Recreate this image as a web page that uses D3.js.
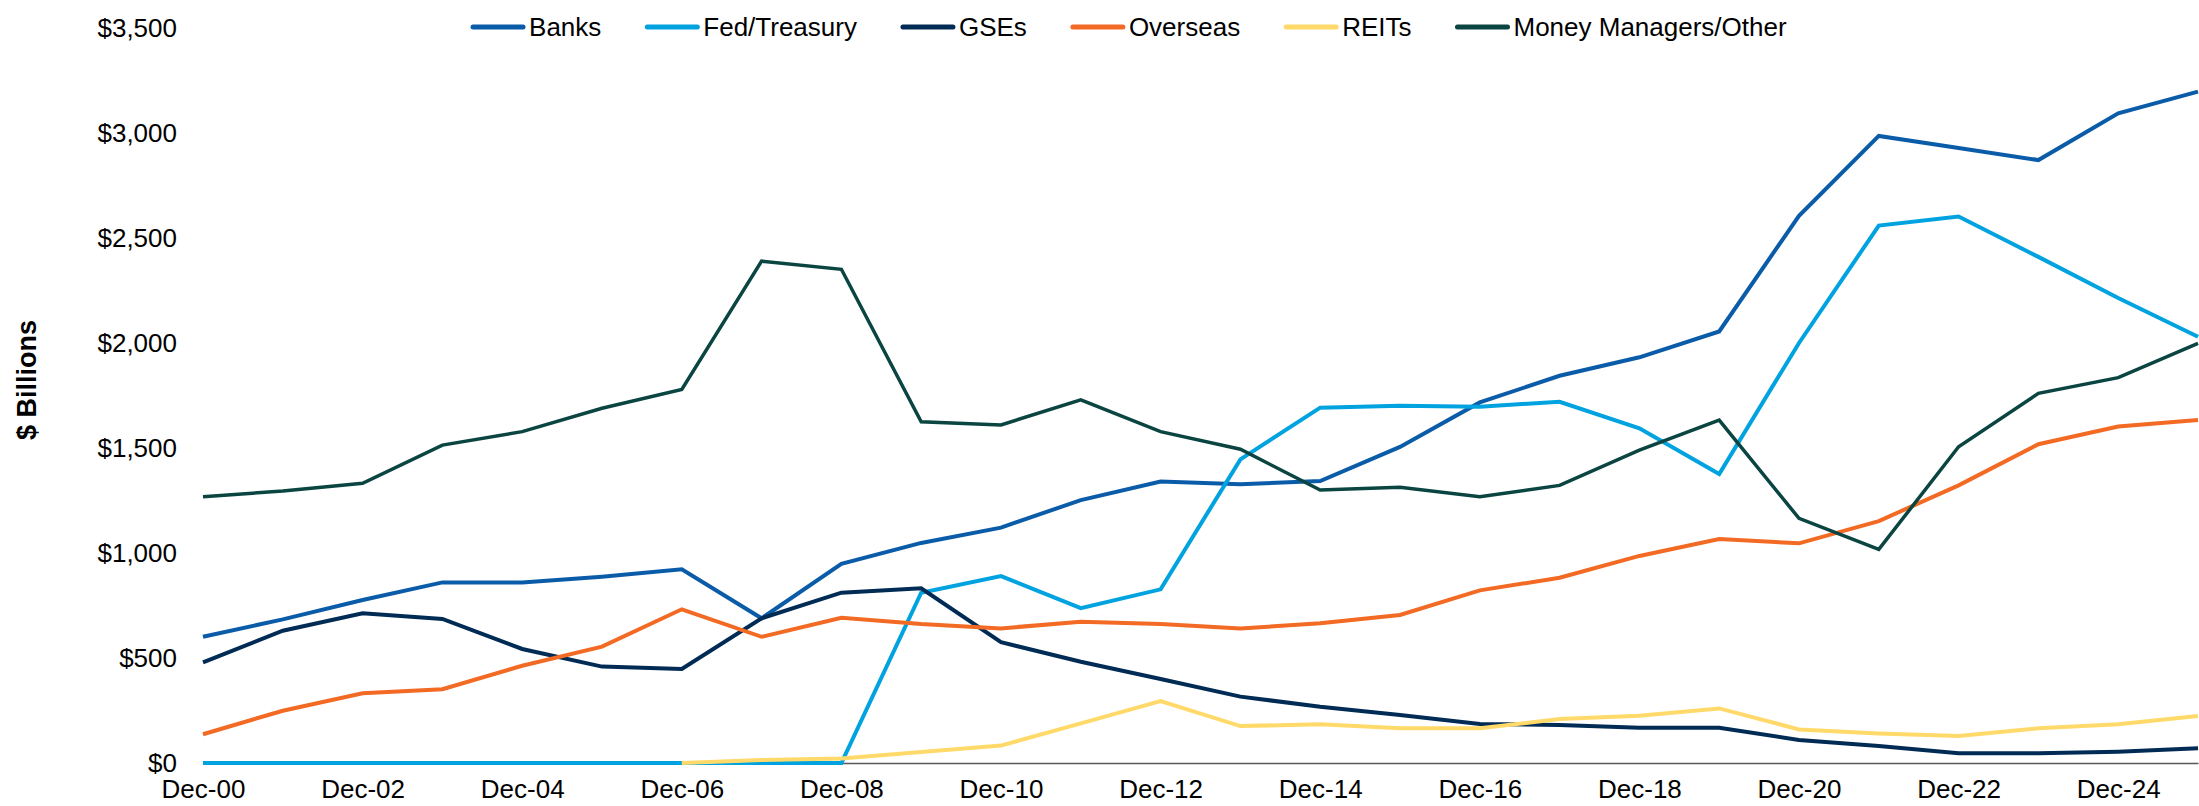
<!DOCTYPE html>
<html>
<head>
<meta charset="utf-8">
<script src="https://cdn.jsdelivr.net/npm/d3@7"></script>
<style>
  html, body { margin: 0; padding: 0; background: #fff; }
  #chart { width: 2199px; height: 806px; }
  text { font-family: "Liberation Sans", Arial, sans-serif; }
</style>
</head>
<body>
<div id="chart"></div>
<script>
// year-end holdings, $ billions
const periods = ["Dec-00","Dec-01","Dec-02","Dec-03","Dec-04","Dec-05","Dec-06","Dec-07","Dec-08","Dec-09",
                 "Dec-10","Dec-11","Dec-12","Dec-13","Dec-14","Dec-15","Dec-16","Dec-17","Dec-18","Dec-19",
                 "Dec-20","Dec-21","Dec-22","Dec-23","Dec-24","Dec-25"];
const tickLabels = ["Dec-00","Dec-02","Dec-04","Dec-06","Dec-08","Dec-10","Dec-12","Dec-14","Dec-16","Dec-18","Dec-20","Dec-22","Dec-24"];
const yTicks = [0, 500, 1000, 1500, 2000, 2500, 3000, 3500];

const banks    = [601, 684, 776, 860, 860, 887, 922, 689, 948, 1048, 1121, 1252, 1340, 1327, 1343, 1505, 1717, 1844, 1932, 2055, 2606, 2986, 2929, 2871, 3094, 3197];
const fed      = [0, 0, 0, 0, 0, 0, 0, 0, 0, 811, 890, 737, 827, 1446, 1692, 1701, 1697, 1720, 1594, 1376, 2000, 2559, 2602, 2410, 2214, 2030];
const gses     = [479, 630, 713, 686, 543, 459, 448, 689, 811, 832, 575, 482, 400, 316, 268, 229, 186, 181, 168, 168, 110, 81, 46, 46, 54, 70];
const overseas = [137, 249, 332, 351, 463, 554, 732, 601, 692, 662, 641, 673, 662, 641, 665, 705, 822, 882, 986, 1067, 1046, 1152, 1322, 1518, 1602, 1633];
const reits    = [null, null, null, null, null, null, 0, 14, 22, 52, 83, 189, 295, 176, 184, 165, 165, 209, 225, 260, 160, 141, 129, 165, 184, 224];
const moneyMgr = [1268, 1295, 1332, 1514, 1578, 1689, 1779, 2390, 2351, 1625, 1610, 1729, 1578, 1494, 1300, 1313, 1268, 1322, 1490, 1633, 1165, 1017, 1506, 1760, 1835, 1998];

const seriesNames  = ["Banks", "Fed/Treasury", "GSEs", "Overseas", "REITs", "Money Managers/Other"];
const seriesColors = ["#0B5CA8", "#00A3E0", "#002B55", "#F26A23", "#FFDA6A", "#0A4541"];
const seriesValues = [banks, fed, gses, overseas, reits, moneyMgr];

const w = 2199, h = 806;
const xLeft = 203, xRight = 2198, yTop = 28, yBottom = 763;

const svg = d3.select("#chart").append("svg")
  .attr("width", w)
  .attr("height", h);

const x = d3.scaleLinear().domain([0, periods.length - 1]).range([xLeft, xRight]);
const y = d3.scaleLinear().domain([0, 3500]).range([yBottom, yTop]);

// y axis (labels only)
const yAxis = d3.axisLeft(y)
  .tickValues(yTicks)
  .tickSize(0)
  .tickPadding(26)
  .tickFormat(d => "$" + d3.format(",")(d));
svg.append("g")
  .attr("transform", "translate(" + xLeft + ",0)")
  .call(yAxis)
  .call(g => g.select(".domain").remove())
  .selectAll("text")
  .attr("font-size", 26)
  .attr("fill", "#000");

// x axis
const xAxis = d3.axisBottom(x)
  .tickValues(tickLabels.map(t => periods.indexOf(t)))
  .tickSize(0)
  .tickPadding(17)
  .tickFormat(i => periods[i]);
svg.append("g")
  .attr("transform", "translate(0," + yBottom + ")")
  .call(xAxis)
  .call(g => g.select(".domain").attr("stroke", "#595959").attr("stroke-width", 1.5))
  .selectAll("text")
  .attr("font-size", 26)
  .attr("fill", "#000");

// lines
const line = d3.line()
  .defined(d => d != null)
  .x((d, i) => x(i))
  .y(d => y(d));

seriesValues.forEach((vals, k) => {
  svg.append("path")
    .datum(vals)
    .attr("fill", "none")
    .attr("stroke", seriesColors[k])
    .attr("stroke-width", k == 5 ? 3.5 : 4)
    .attr("stroke-linejoin", "miter")
    .attr("d", line);
});

// axis title
svg.append("text")
  .attr("transform", "translate(36,380) rotate(-90)")
  .attr("text-anchor", "middle")
  .attr("font-size", 27)
  .attr("font-weight", "bold")
  .attr("fill", "#000")
  .text("$ Billions");

// legend
const legend = svg.append("g").attr("transform", "translate(0,27)");
const swatch = 50, swGap = 6, itemGap = 46;
let items = legend.selectAll("g")
  .data(seriesNames)
  .enter().append("g");
items.append("line")
  .attr("x1", 0).attr("x2", swatch)
  .attr("y1", 0).attr("y2", 0)
  .attr("stroke", (d, i) => seriesColors[i])
  .attr("stroke-width", 5)
  .attr("stroke-linecap", "round");
items.append("text")
  .attr("x", swatch + swGap)
  .attr("dy", "0.35em")
  .attr("font-size", 26)
  .attr("fill", "#000")
  .text(d => d);
let widths = [];
items.each(function() { widths.push(this.getBBox().width); });
const total = d3.sum(widths) + itemGap * (widths.length - 1);
let pos = 1130 - total / 2;
items.attr("transform", (d, i) => {
  const t = "translate(" + pos + ",0)";
  pos += widths[i] + itemGap;
  return t;
});
</script>
</body>
</html>
